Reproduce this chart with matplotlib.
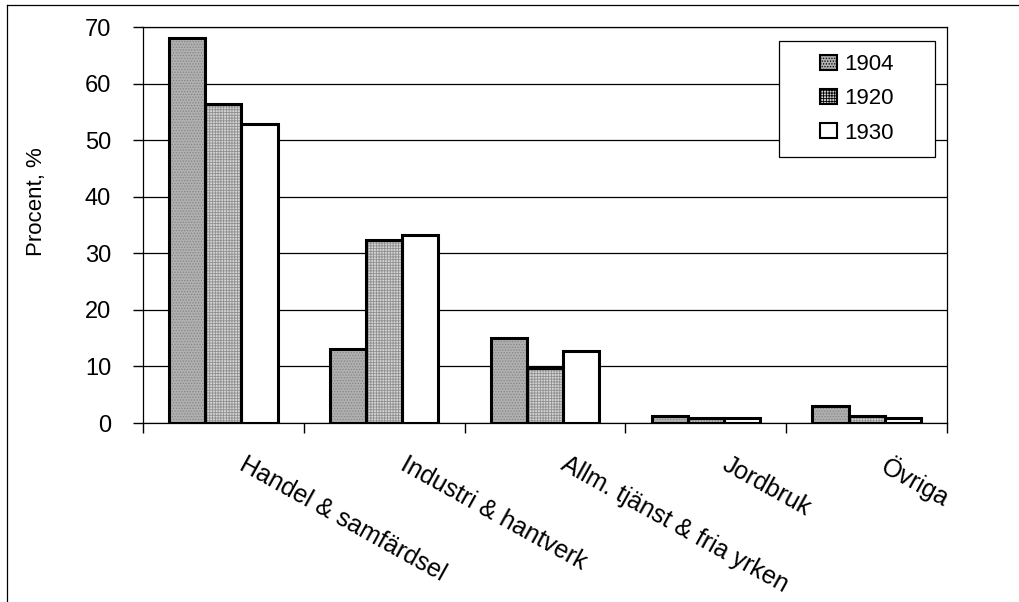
import matplotlib
matplotlib.use("Agg")
import matplotlib.pyplot as plt
import numpy as np
from matplotlib.lines import Line2D
from matplotlib.patches import Patch, Rectangle

# Data
categories = [
    "Handel & samfärdsel",
    "Industri & hantverk",
    "Allm. tjänst & fria yrken",
    "Jordbruk",
    "Övriga",
]
years = ["1904", "1920", "1930"]
share_1904 = [68.0, 13.0, 15.0, 1.2, 3.0]
share_1920 = [56.4, 32.3, 9.8, 0.9, 1.3]
share_1930 = [52.8, 33.2, 12.7, 0.8, 0.9]
y_ticks = [0, 10, 20, 30, 40, 50, 60, 70]

plt.rcParams["font.family"] = ["Liberation Sans", "DejaVu Sans"]
plt.rcParams["hatch.linewidth"] = 0.6

fig = plt.figure(figsize=(10.19, 6.02), dpi=100)
ax = fig.add_axes([143 / 1019, 1 - 423 / 602, 804 / 1019, 396 / 602])

x = np.arange(len(categories))
width = 0.225
styles = [
    dict(face="#b0b0b0", hatch="......", hatch_col="#858585"),
    dict(face="#d4d4d4", hatch="++++++", hatch_col="#909090"),
    dict(face="white", hatch=None, hatch_col="white"),
]
series = [share_1904, share_1920, share_1930]

for i, (vals, st) in enumerate(zip(series, styles)):
    pos = x + (i - 1) * width
    # fill with texture first, then heavy black outline on top
    ax.bar(pos, vals, width, color=st["face"], hatch=st["hatch"],
           edgecolor=st["hatch_col"], linewidth=0, zorder=3)
    ax.bar(pos, vals, width, fill=False, edgecolor="black",
           linewidth=2.2, zorder=4)

ax.set_xlim(-0.5, len(categories) - 0.5)
ax.set_ylim(0, 70)
ax.set_yticks(y_ticks)
ax.set_yticklabels([str(t) for t in y_ticks], fontsize=17)
ax.tick_params(axis="y", length=7, width=1, pad=16, direction="out")

# ticks on category boundaries, labels drawn separately
ax.set_xticks(np.arange(-0.5, len(categories), 1.0))
ax.set_xticklabels([])
ax.tick_params(axis="x", length=7, width=1, direction="out")

ax.yaxis.grid(True, color="black", linewidth=0.9, zorder=0)
ax.set_axisbelow(True)
for side in ["left", "right", "top", "bottom"]:
    ax.spines[side].set_linewidth(0.9)

ax.set_ylabel("Procent, %", fontsize=16)
ax.yaxis.set_label_coords(-0.12, 0.56)

for i, cat in enumerate(categories):
    ax.annotate(cat, xy=(i, 0), xycoords=ax.get_xaxis_transform(),
                xytext=(17, -21), textcoords="offset points",
                rotation=-29, rotation_mode="anchor",
                ha="left", va="top", fontsize=18)

# Legend with a custom frame
frame = Rectangle((0.791, 0.672), 0.194, 0.293, transform=ax.transAxes,
                  facecolor="white", edgecolor="black", linewidth=0.9,
                  zorder=5)
ax.add_patch(frame)
handles = [
    Patch(facecolor=st["face"], hatch=st["hatch"], edgecolor="black",
          linewidth=1.5)
    for st in styles
]
leg = ax.legend(handles, years, loc="center", bbox_to_anchor=(0.888, 0.8185),
                frameon=False, fontsize=16, handlelength=0.75,
                handleheight=0.65, handletextpad=0.35, labelspacing=0.6)
leg.set_zorder(6)

# Figure border lines (left and top)
fig.add_artist(Line2D([7 / 1019, 7 / 1019], [0, 1 - 5 / 602],
                      transform=fig.transFigure, color="black", linewidth=0.9))
fig.add_artist(Line2D([7 / 1019, 1], [1 - 5 / 602, 1 - 5 / 602],
                      transform=fig.transFigure, color="black", linewidth=0.9))

fig.savefig("out.png", dpi=100)
